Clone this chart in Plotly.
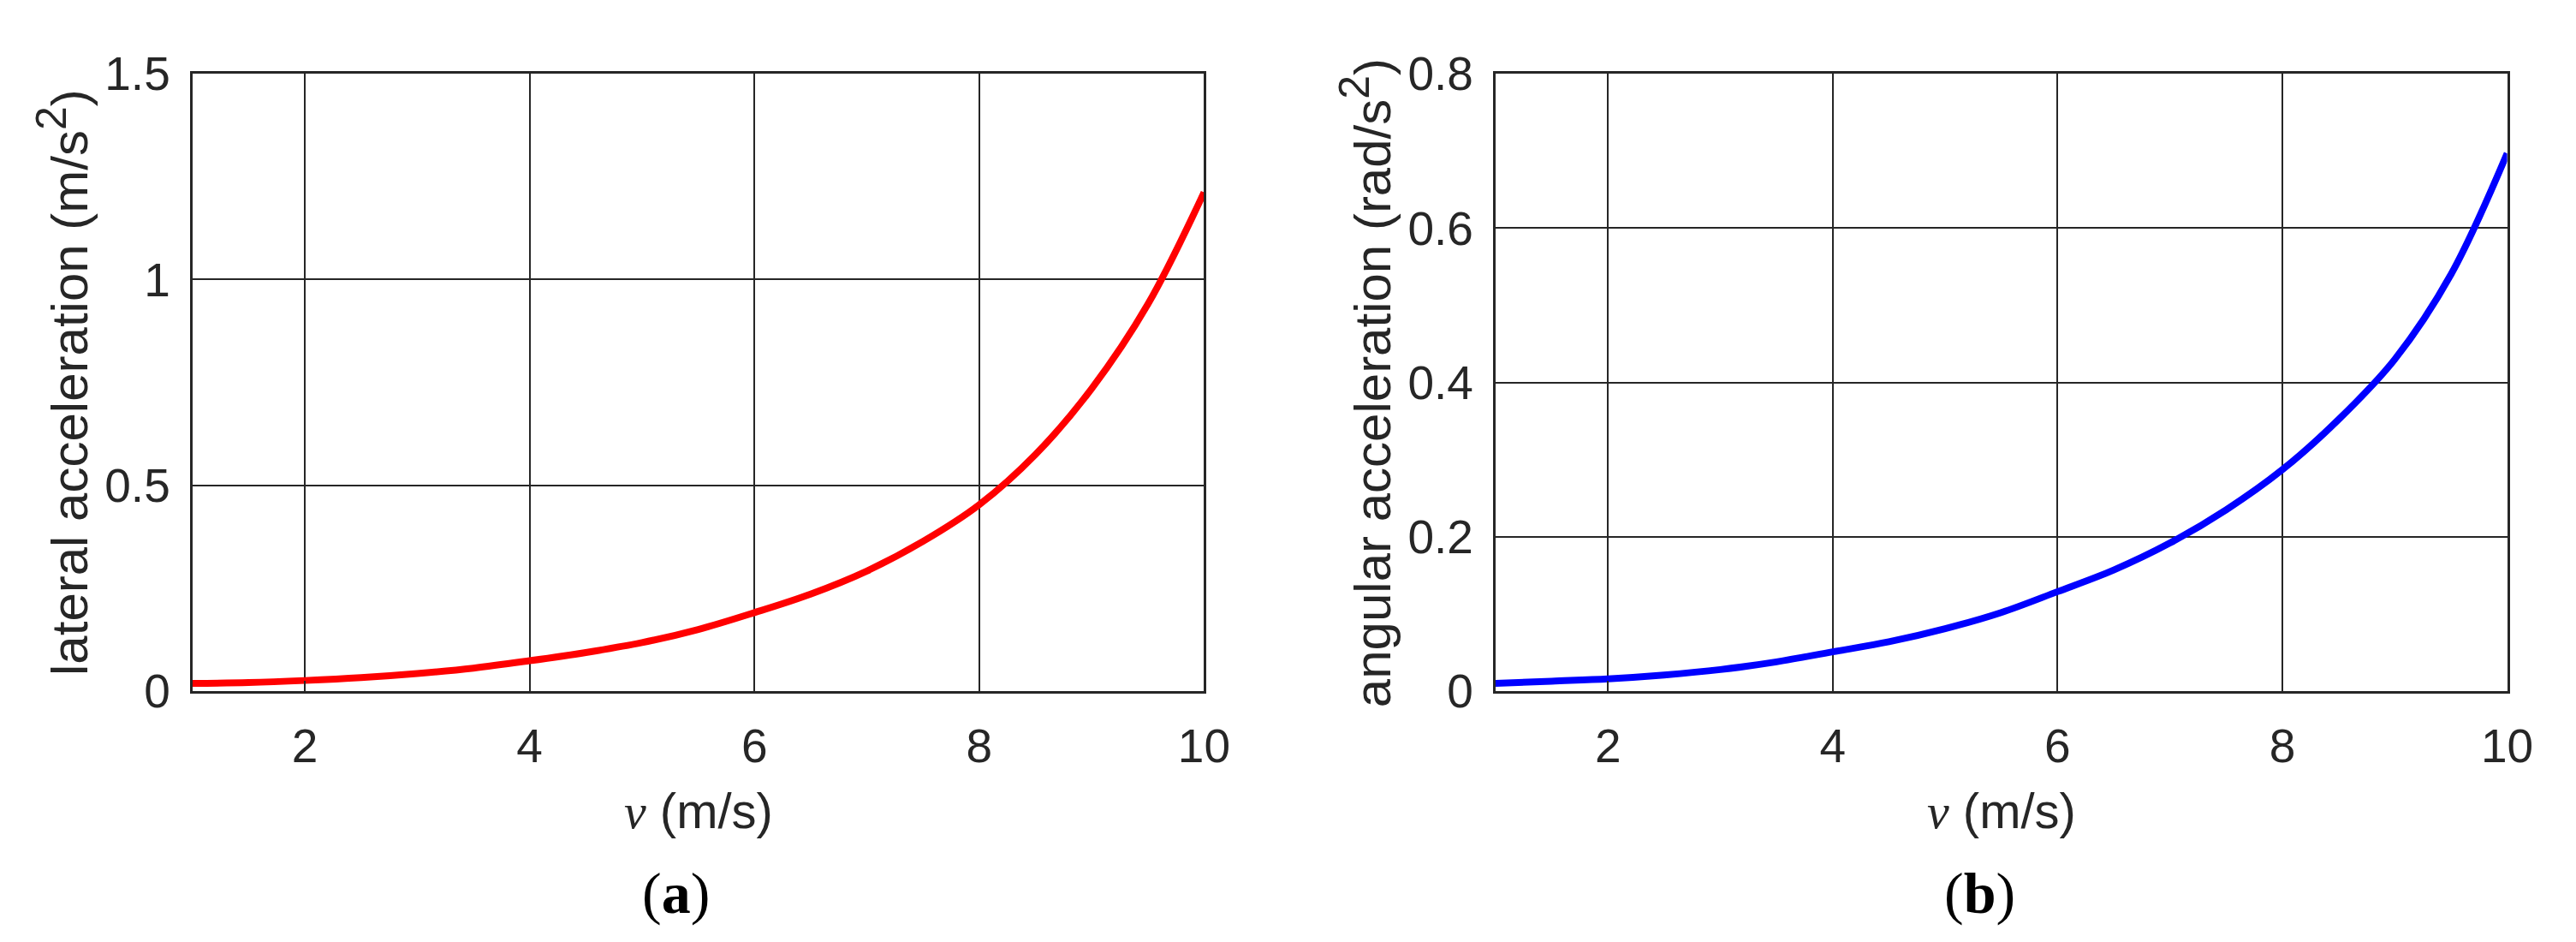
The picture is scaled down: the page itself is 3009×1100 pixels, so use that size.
import plotly.graph_objects as go
from plotly.subplots import make_subplots

# speed (m/s)
speed = [1.0, 1.5, 2.0, 2.5, 3.0, 3.5, 4.0, 4.5, 5.0, 5.5,
         6.0, 6.5, 7.0, 7.5, 8.0, 8.5, 9.0, 9.5, 10.0]

# lateral acceleration (m/s^2)
lateral_acc = [0.019, 0.021, 0.026, 0.033, 0.043, 0.056, 0.074, 0.094, 0.118, 0.150,
               0.191, 0.236, 0.292, 0.364, 0.453, 0.575, 0.735, 0.940, 1.212]

# angular acceleration (rad/s^2)
angular_acc = [0.010, 0.013, 0.016, 0.021, 0.028, 0.038, 0.051, 0.064, 0.081, 0.102,
               0.129, 0.157, 0.192, 0.235, 0.287, 0.352, 0.430, 0.540, 0.697]

x_ticks = [2, 4, 6, 8, 10]
lat_ticks = [0, 0.5, 1, 1.5]
ang_ticks = [0, 0.2, 0.4, 0.6, 0.8]

W, H = 3009, 1100
AX_COLOR = "#262626"
SANS = "Liberation Sans, Arial, sans-serif"
SERIF = "Liberation Serif, Times New Roman, serif"

fig = make_subplots(rows=1, cols=2)

fig.add_trace(
    go.Scatter(x=speed, y=lateral_acc, mode="lines", line_shape="spline",
               line=dict(color="#FF0000", width=8), showlegend=False),
    row=1, col=1,
)
fig.add_trace(
    go.Scatter(x=speed, y=angular_acc, mode="lines", line_shape="spline",
               line=dict(color="#0000FF", width=8), showlegend=False),
    row=1, col=2,
)

axis_style = dict(
    showline=True, mirror="ticks", linewidth=3, linecolor=AX_COLOR,
    showgrid=True, gridcolor=AX_COLOR, gridwidth=2, zeroline=False,
    ticks="inside", ticklen=12, tickwidth=2, tickcolor=AX_COLOR,
    tickfont=dict(family=SANS, size=55, color=AX_COLOR),
)

y_dom = [(H - 814) / H, (H - 50) / H]
fig.update_xaxes(axis_style, range=[1, 10], tickvals=x_ticks, ticklabelstandoff=14)
fig.update_yaxes(axis_style, ticklabelstandoff=12)
fig.update_xaxes(domain=[219 / W, 1413 / W], row=1, col=1)
fig.update_xaxes(domain=[1757 / W, 2951 / W], row=1, col=2)
fig.update_yaxes(domain=y_dom, range=[0, 1.5], tickvals=lat_ticks,
                 ticktext=["0", "0.5", "1", "1.5"], row=1, col=1)
fig.update_yaxes(domain=y_dom, range=[0, 0.8], tickvals=ang_ticks,
                 ticktext=["0", "0.2", "0.4", "0.6", "0.8"], row=1, col=2)

sq = "<sup><span style='font-size:50px'>2</span></sup>"
nu = f"<span style='font-family:{SERIF}'><i>ν</i></span> (m/s)"
for cx, ylab, tx, panel in [
    (816, f"lateral acceleration (m/s{sq})", 66, "a"),
    (2354, f"angular acceleration (rad/s{sq})", 1604, "b"),
]:
    fig.add_annotation(x=cx / W, y=(H - 962) / H, xref="paper", yref="paper",
                       text=nu, showarrow=False,
                       font=dict(family=SANS, size=58, color=AX_COLOR),
                       xanchor="center", yanchor="middle")
    fig.add_annotation(x=tx / W, y=(H - 432) / H, xref="paper", yref="paper",
                       text=ylab, textangle=-90, showarrow=False,
                       font=dict(family=SANS, size=60, color=AX_COLOR),
                       xanchor="center", yanchor="middle")
    fig.add_annotation(x=(cx - 26) / W, y=(H - 1064) / H, xref="paper", yref="paper",
                       text=f"(<b>{panel}</b>)", showarrow=False,
                       font=dict(family=SERIF, size=68, color="#000000"),
                       xanchor="center", yanchor="middle")

fig.update_layout(
    width=W, height=H, autosize=False,
    margin=dict(l=0, r=0, t=0, b=0),
    plot_bgcolor="white", paper_bgcolor="white",
)

fig.write_html("out.html")
